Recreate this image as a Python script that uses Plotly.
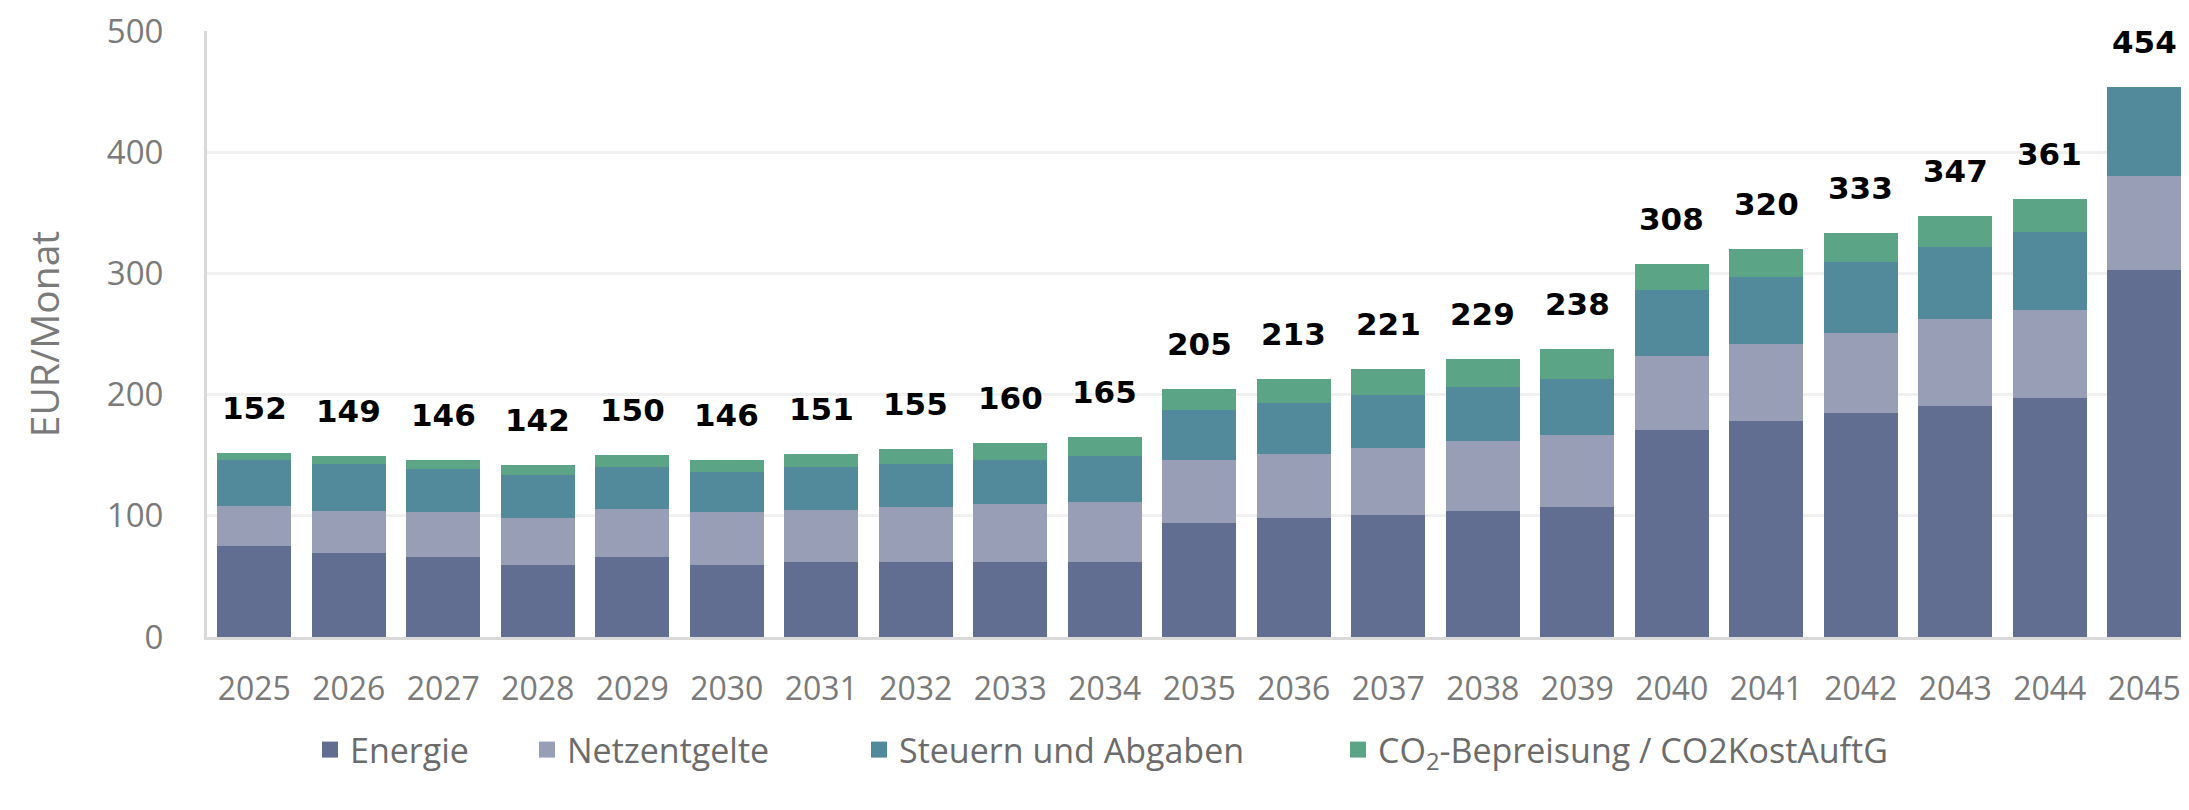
import plotly.graph_objects as go

years = [str(y) for y in range(2025, 2046)]
energie = [75, 69, 66, 59, 66, 59, 62, 62, 62, 62, 94, 98, 101, 104, 107, 171, 178, 185, 191, 197, 303]
netzentgelte = [33, 35, 37, 39, 40, 44, 43, 45, 48, 49, 52, 53, 55, 58, 60, 61, 64, 66, 71, 73, 77]
steuern = [38, 39, 36, 36, 34, 33, 35, 36, 36, 38, 41, 42, 44, 44, 46, 54, 55, 58, 60, 64, 74]
co2 = [6, 6, 7, 8, 10, 10, 11, 12, 14, 16, 18, 20, 21, 23, 25, 22, 23, 24, 25, 27, 0]

series_names = ["Energie", "Netzentgelte", "Steuern und Abgaben", "CO<sub>2</sub>-Bepreisung / CO2KostAuftG"]
series_values = [energie, netzentgelte, steuern, co2]
colors = ["#626e91", "#979eb6", "#528a9b", "#5ba586"]
legend_x_px = [302, 519, 851, 1330]

# the page body has an 8px margin, so the figure is sized to fit inside it
W, H = 2173, 794
fig = go.Figure()
legend_ids = ["legend", "legend2", "legend3", "legend4"]
for i, (name, vals, col) in enumerate(zip(series_names, series_values, colors)):
    fig.add_trace(go.Bar(
        x=years, y=vals, name=name, marker=dict(color=col, line=dict(width=0)),
        legendgroup=name, showlegend=False,
        hovertemplate="%{x}: %{y}<extra>" + name + "</extra>",
    ))
    fig.add_trace(go.Scatter(
        x=[years[0]], y=[None], mode="markers", name=name, legendgroup=name,
        marker=dict(symbol="square", size=16, color=col),
        legend=legend_ids[i], showlegend=True, hoverinfo="skip",
    ))

totals = [sum(v) for v in zip(*series_values)]
for idx, t in enumerate(totals):
    fig.add_annotation(
        x=idx, y=t, xref="x", yref="y", text=f"<b>{t}</b>", showarrow=False, yshift=45,
        font=dict(family="DejaVu Sans", size=31, color="#000000"),
        xanchor="center", yanchor="middle",
    )

legend_font = dict(family="Open Sans", size=34, color="#6b6b6b")
layout_legends = {}
for i, lid in enumerate(legend_ids):
    layout_legends[lid] = dict(
        x=legend_x_px[i] / W, xref="container", xanchor="left",
        y=1 - 742 / H, yref="container", yanchor="middle",
        orientation="h", font=legend_font, bgcolor="rgba(0,0,0,0)",
        itemsizing="trace",
    )

fig.update_layout(
    width=W, height=H, autosize=False,
    barmode="stack", bargap=0.217,
    plot_bgcolor="white", paper_bgcolor="white",
    margin=dict(l=199, r=0, t=19, b=165),
    font=dict(family="Open Sans", color="#7f7f7f"),
    **layout_legends,
)
fig.update_xaxes(
    type="category", categoryorder="array", categoryarray=years,
    range=[-0.5, 20.389],
    showline=True, linecolor="#d9d9d9", linewidth=3,
    tickfont=dict(family="Open Sans", size=32, color="#7a7a7a"),
    ticks="", ticklabelstandoff=22, showgrid=False,
    ticklabeloverflow="allow",
)
fig.update_yaxes(
    range=[0, 500], dtick=100, showline=True, linecolor="#d9d9d9", linewidth=3,
    showgrid=True, gridcolor="rgba(0,0,0,0.06)", gridwidth=3, layer="above traces",
    zeroline=False,
    tickfont=dict(family="Open Sans", size=33, color="#7a7a7a"),
    ticks="", ticklabelstandoff=34, ticklabeloverflow="allow",
    title=dict(text="EUR/Monat", font=dict(family="Open Sans", size=39, color="#7a7a7a"), standoff=36),
)

fig.write_html("out.html")
